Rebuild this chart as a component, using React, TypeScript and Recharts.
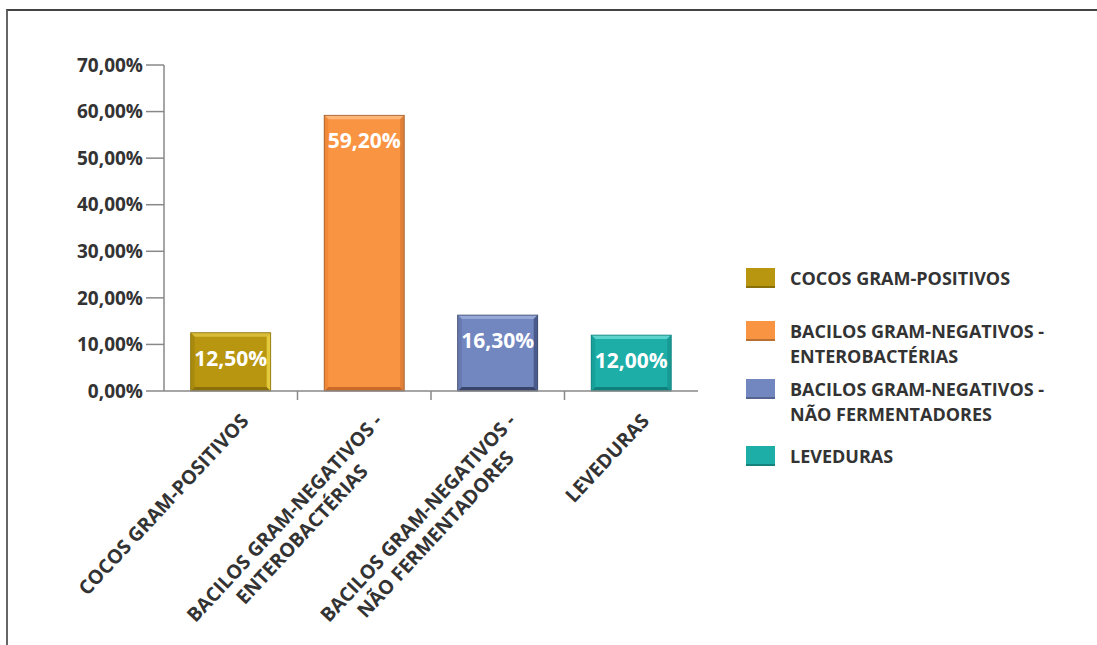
import React from "react";
import { BarChart, Bar, XAxis, YAxis, Cell, LabelList, Legend } from "recharts";

// categorias e valores (%)
const CATEGORIES = [
  "COCOS GRAM-POSITIVOS",
  "BACILOS GRAM-NEGATIVOS - ENTEROBACTÉRIAS",
  "BACILOS GRAM-NEGATIVOS - NÃO FERMENTADORES",
  "LEVEDURAS",
];
const VALUES = [12.5, 59.2, 16.3, 12.0];
const Y_TICKS = [0, 10, 20, 30, 40, 50, 60, 70];

const COLORS = ["#B8960F", "#F99443", "#7286C0", "#1DAEA8"];

// tons do efeito "bisel" das barras
const BEVEL = [
  { top: "#D9BD3A", bottom: "#8A6F0A", left: "#A88A0E", right: "#E2CA3C", stroke: "#8A6F0A" },
  { top: "#FFB678", bottom: "#C96A28", left: "#F08838", right: "#E08038", stroke: "#9A5A30" },
  { top: "#97A8D8", bottom: "#38446A", left: "#6678AE", right: "#4A5A8A", stroke: "#3A4668" },
  { top: "#5ED2CC", bottom: "#10807C", left: "#18A09A", right: "#189A95", stroke: "#10807C" },
];

const FONT = "'Open Sans', sans-serif";
const TEXT = "#333";

const data = CATEGORIES.map((name, i) => ({ name, value: VALUES[i] }));

const fmt = (v: number) => v.toFixed(2).replace(".", ",") + "%";

// "A - B" -> ["A -", "B"]
const splitLabel = (s: string) => {
  const parts = s.split(" - ");
  if (parts.length < 2) return [s];
  return [parts[0] + " -", parts.slice(1).join(" - ")];
};

let ctx: CanvasRenderingContext2D | null = null;
const measure = (s: string, size: number) => {
  if (!ctx) ctx = document.createElement("canvas").getContext("2d");
  if (!ctx) return s.length * size * 0.62;
  ctx.font = `bold ${size}px 'Open Sans'`;
  return ctx.measureText(s).width;
};

const BevelBar = (props: any) => {
  const { x, y, width: w, height: h, index, fill } = props;
  const b = BEVEL[index];
  const d = 4;
  return (
    <g>
      <rect x={x} y={y} width={w} height={h} fill={fill} />
      <polygon points={`${x},${y} ${x + w},${y} ${x + w - d},${y + d} ${x + d},${y + d}`} fill={b.top} />
      <polygon points={`${x},${y + h} ${x + w},${y + h} ${x + w - d},${y + h - d} ${x + d},${y + h - d}`} fill={b.bottom} />
      <polygon points={`${x},${y} ${x + d},${y + d} ${x + d},${y + h - d} ${x},${y + h}`} fill={b.left} />
      <polygon points={`${x + w},${y} ${x + w - d},${y + d} ${x + w - d},${y + h - d} ${x + w},${y + h}`} fill={b.right} />
      <rect x={x} y={y} width={w} height={h} fill="none" stroke={b.stroke} strokeWidth={0.8} />
    </g>
  );
};

const CategoryTick = (props: any) => {
  const { x, y, payload, index } = props;
  const lines = splitLabel(payload.value);
  const size = 19.5;
  const w1 = measure(lines[0], size);
  const half = payload.offset || 66.75;
  const axisY = y - 8;
  return (
    <g>
      {index < CATEGORIES.length - 1 && (
        <line x1={x + half} y1={axisY} x2={x + half} y2={axisY + 9} stroke="#888" strokeWidth={1.5} />
      )}
      <g transform={`translate(${x + 19},${axisY + 31}) rotate(-47)`}>
        {lines.map((ln, i) => (
          <text
            key={i}
            x={i === 0 ? 0 : -w1 / 2}
            y={i * 24}
            textAnchor={i === 0 ? "end" : "middle"}
            fill={TEXT}
            fontSize={size}
            fontWeight="bold"
            fontFamily={FONT}
          >
            {ln}
          </text>
        ))}
      </g>
    </g>
  );
};

const LEGEND_ROW_TOP = [0, 53, 111, 178];

const renderLegend = () => (
  <div style={{ position: "relative", fontFamily: FONT, fontWeight: "bold", fontSize: 18, color: TEXT }}>
    {CATEGORIES.map((c, i) => (
      <div key={c} style={{ position: "absolute", left: 0, top: LEGEND_ROW_TOP[i], width: 340 }}>
        <div
          style={{
            position: "absolute",
            left: 0,
            top: 2,
            width: 29,
            height: 20,
            background: COLORS[i],
            boxShadow: "inset 0 -2px 0 rgba(0,0,0,0.25)",
          }}
        />
        <div style={{ marginLeft: 44, lineHeight: "24.5px" }}>
          {splitLabel(c).map((ln) => (
            <div key={ln}>{ln}</div>
          ))}
        </div>
      </div>
    ))}
  </div>
);

export default function App() {
  return (
    <div style={{ position: "absolute", left: 0, top: 0, width: 1097, height: 645, background: "#fff", fontFamily: FONT }}>
      <div
        style={{
          position: "absolute",
          left: 6,
          top: 9,
          width: 1091,
          height: 636,
          borderTop: "2px solid #444",
          borderLeft: "2px solid #666",
          boxSizing: "border-box",
        }}
      />
      <div style={{ position: "absolute", left: 0, top: 0 }}>
        <BarChart
          width={1097}
          height={645}
          data={data}
          margin={{ top: 65, right: 399, bottom: 224, left: 104 }}
          barCategoryGap="20%"
        >
          <XAxis
            dataKey="name"
            interval={0}
            height={30}
            tickLine={false}
            axisLine={{ stroke: "#888", strokeWidth: 1.5 }}
            tick={<CategoryTick />}
          />
          <YAxis
            domain={[0, 70]}
            ticks={Y_TICKS}
            width={60}
            tickSize={18}
            tickMargin={3}
            tickFormatter={fmt}
            axisLine={{ stroke: "#888", strokeWidth: 1.5 }}
            tickLine={{ stroke: "#888", strokeWidth: 1.5 }}
            tick={{ fill: TEXT, fontSize: 19, fontWeight: "bold", fontFamily: FONT }}
          />
          <Legend
            layout="horizontal"
            align="center"
            verticalAlign="middle"
            content={renderLegend}
            wrapperStyle={{ left: 746, top: 266, width: 340, height: 210 }}
          />
          <Bar dataKey="value" shape={<BevelBar />} isAnimationActive={false}>
            {data.map((d, i) => (
              <Cell key={d.name} fill={COLORS[i]} />
            ))}
            <LabelList
              dataKey="value"
              position="insideTop"
              offset={18}
              formatter={(v: any) => fmt(Number(v))}
              fill="#fff"
              fontSize={21}
              fontWeight="bold"
              fontFamily={FONT}
            />
          </Bar>
        </BarChart>
      </div>
    </div>
  );
}
